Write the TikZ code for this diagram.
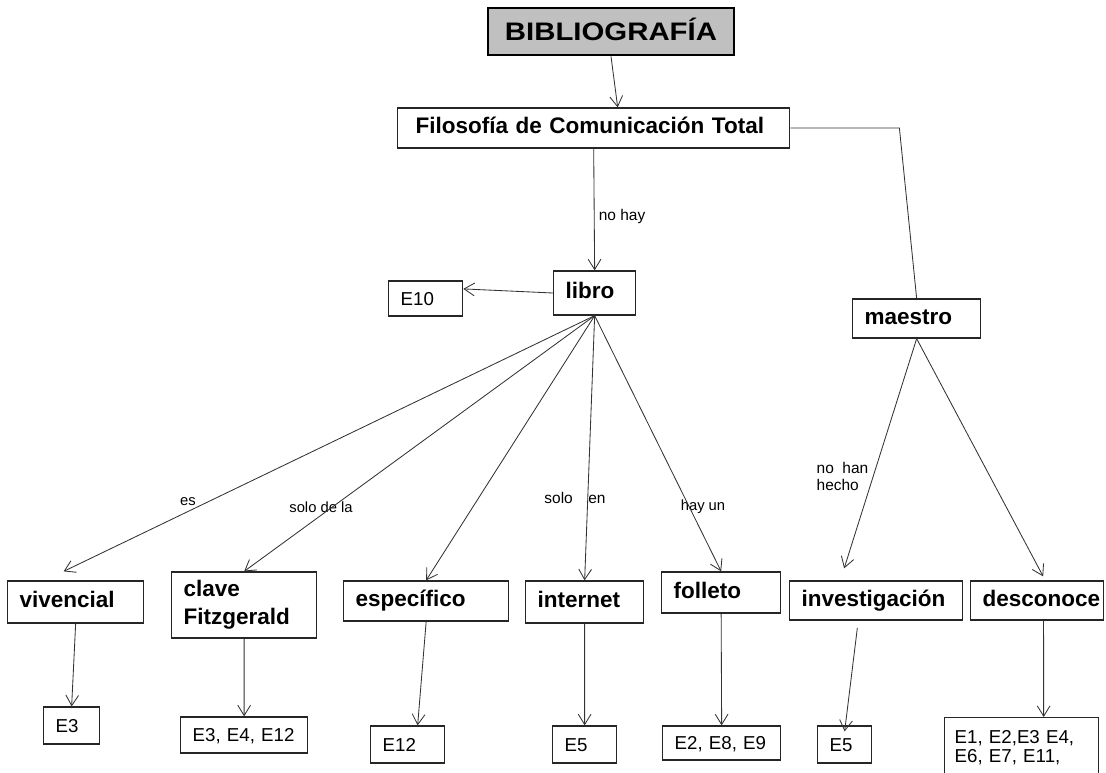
\documentclass[tikz,border=0pt]{standalone}
\usepackage{fontspec}
\setmainfont{Liberation Sans}
\newfontfamily\titlefont[FakeStretch=1.16]{Liberation Sans}
\usepackage{tikz}
\usetikzlibrary{arrows.meta}
\definecolor{titlegray}{RGB}{192, 192, 192}

\begin{document}
\begin{tikzpicture}[
    x=0.025cm, y=-0.025cm,
    boxbase/.style={rectangle, draw=black!85, line width=0.9pt, inner xsep=0.3cm, inner ysep=0pt, align=left, anchor=west},
    concept/.style={boxbase, text height=11.5pt, text depth=3.5pt, font=\fontsize{16}{20}\selectfont\bfseries},
    leafbase/.style={boxbase, font=\fontsize{13.3}{13}\selectfont},
    leaf/.style={leafbase, text height=9.5pt, text depth=0pt},
    linklabel/.style={inner sep=1pt, font=\fontsize{10.5}{12}\selectfont},
    link/.style={line width=0.6pt, draw=black!80},
    arr/.style={link, -{Straight Barb[length=2.6mm, width=3.2mm]}}
]
    \useasboundingbox (0,0) rectangle (1106,772);
    \clip (0,0) rectangle (1106,772);

    % Top
    \node[rectangle, draw=black, line width=2pt, fill=titlegray, minimum width=6.15cm, minimum height=1.175cm, text height=13pt, text depth=0pt, font=\titlefont\fontsize{18}{20}\selectfont\bfseries] (biblio) at (611, 31.5) {BIBLIOGRAFÍA};
    \node[concept, inner xsep=0.45cm, text width=8.9cm, minimum height=1cm] (filo) at (397, 128) {Filosofía de Comunicación Total};

    % Second level
    \node[concept, text width=1.45cm, minimum height=1.1cm] (libro) at (553, 293) {libro};
    \node[leaf, text width=1.25cm, minimum height=0.875cm] (e10) at (388, 298.5) {E10};
    \node[concept, text width=2.6cm, minimum height=0.975cm] (maestro) at (852, 318.5) {maestro};

    % Third level
    \node[concept, text width=2.8cm, minimum height=1.05cm] (vivencial) at (7, 602) {vivencial};
    \node[concept, text width=3.025cm, minimum height=1.65cm, text depth=23.5pt] (clave) at (171, 605) {clave\\Fitzgerald};
    \node[concept, text width=3.525cm, minimum height=1cm] (especifico) at (343, 601) {específico};
    \node[concept, text width=2.35cm, minimum height=1.05cm] (internet) at (525, 602) {internet};
    \node[concept, text width=2.375cm, minimum height=1.025cm] (folleto) at (661, 592.5) {folleto};
    \node[concept, text width=3.725cm, minimum height=0.975cm] (investigacion) at (789, 600.5) {investigación};
    \node[concept, text width=2.725cm, minimum height=0.975cm] (desconoce) at (970, 600.5) {desconoce};

    % Answers
    \node[leaf, text width=0.8cm, minimum height=0.925cm] (e3) at (43, 725.5) {E3};
    \node[leaf, text width=2.575cm, minimum height=0.9cm] (e3e4e12) at (180, 735) {E3, E4, E12};
    \node[leaf, text width=1.25cm, minimum height=0.925cm] (e12) at (370, 744.5) {E12};
    \node[leaf, text width=1cm, minimum height=0.925cm] (e5a) at (552, 744.5) {E5};
    \node[leaf, text width=2.35cm, minimum height=0.85cm] (e2e8e9) at (662, 743) {E2, E8, E9};
    \node[leaf, text width=0.75cm, minimum height=0.925cm] (e5b) at (817, 744.5) {E5};
    \node[leafbase, anchor=north west, inner xsep=0.25cm, inner ysep=0.33cm, text width=3.35cm, text depth=1.5cm] (eall) at (944, 717) {E1, E2,E3 E4,\\E6, E7, E11,};

    % Labels
    \node[linklabel] (les) at (188, 502) {es};
    \node[linklabel] (lsolodela) at (321, 507) {solo de la};
    \node[linklabel, font=\fontsize{11}{13}\selectfont] (lsoloen) at (575, 498) {solo\hspace{8pt} en};
    \node[linklabel] (lhayun) at (703, 507) {hay un};
    \node[linklabel, anchor=west, align=left, font=\fontsize{11}{12}\selectfont] (lnohan) at (815, 476.5) {no~~han\\hecho};

    % Arrows
    \draw[arr] (biblio.south) -- ([xshift=0.6cm]filo.north);
    \draw[arr] (filo.south) -- node[linklabel, right, pos=0.56, inner sep=3pt, font=\fontsize{11}{13}\selectfont] {no hay} (libro.north);
    \draw[link] (filo.east) -- ++(2.725cm, 0) -- (maestro.north);
    \draw[arr] (libro.west) -- ([yshift=0.24cm]e10.east);

    \draw[arr] (libro.south) -- ([xshift=-0.3cm, yshift=0.225cm]vivencial.north);
    \draw[arr] (libro.south) -- (clave.north);
    \draw[arr] (libro.south) -- (especifico.north);
    \draw[arr] (libro.south) -- (internet.north);
    \draw[arr] (libro.south) -- (folleto.north);
    \draw[arr] (maestro.south) -- ([xshift=-0.8cm, yshift=0.3cm]investigacion.north);
    \draw[arr] (maestro.south) -- ([xshift=0.15cm, yshift=0.1cm]desconoce.north);

    \draw[arr] (vivencial.south) -- (e3.north);
    \draw[arr] (clave.south) -- (e3e4e12.north);
    \draw[arr] (especifico.south) -- ([xshift=0.25cm]e12.north);
    \draw[arr] (internet.south) -- (e5a.north);
    \draw[arr] (folleto.south) -- (e2e8e9.north);
    \draw[arr] ([xshift=-0.47cm, yshift=-0.18cm]investigacion.south) -- ([yshift=-0.15cm]e5b.north);
    \draw[arr] ([xshift=0.16cm]desconoce.south) -- ([xshift=0.55cm]eall.north);

\end{tikzpicture}
\end{document}
